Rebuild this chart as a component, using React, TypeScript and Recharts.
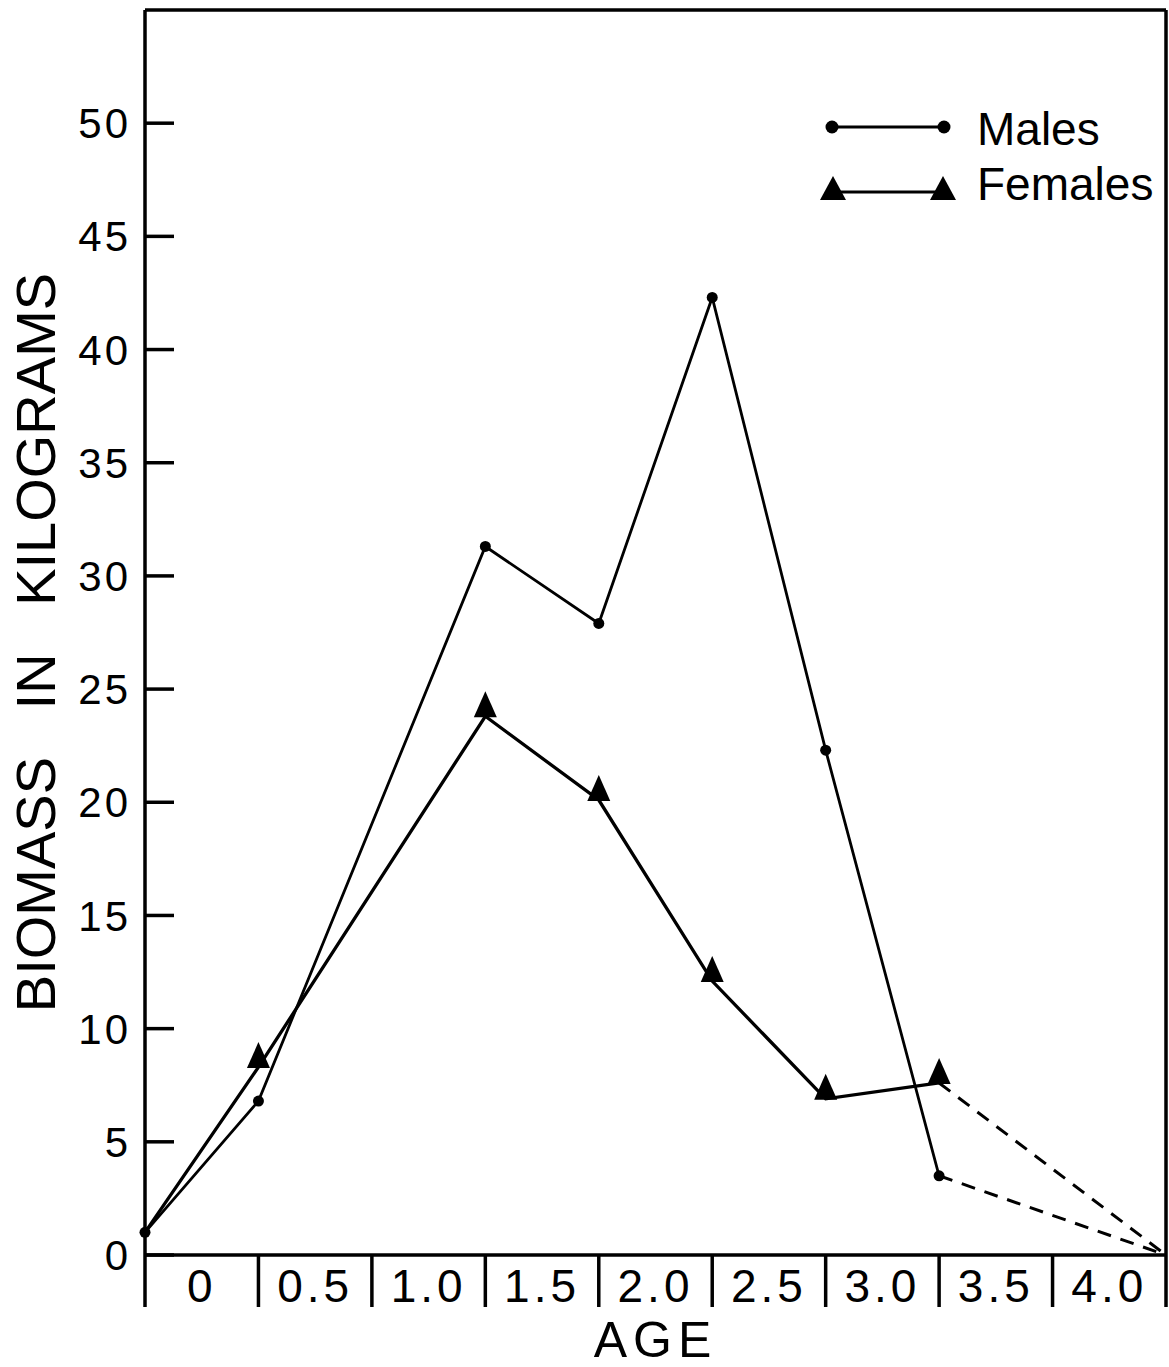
import { Label, Legend, Line, LineChart, ReferenceLine, XAxis, YAxis } from "recharts";

// age classes written between the separators
const ageLabels = ["0", "0.5", "1.0", "1.5", "2.0", "2.5", "3.0", "3.5", "4.0"];
const separators = [0, 1, 2, 3, 4, 5, 6, 7, 8, 9];
const yTicks = [0, 5, 10, 15, 20, 25, 30, 35, 40, 45, 50];

// observed points (x = separator index)
const pointPos = [0, 1, 3, 4, 5, 6, 7];
const malesKg = [1.0, 6.8, 31.3, 27.9, 42.3, 22.3, 3.5];
const femalesKg = [1.0, 8.3, 23.8, 20.1, 12.1, 6.9, 7.6];

// dashed extrapolation to zero
const extPos = [7, 9];
const malesExt = [3.5, 0];
const femalesExt = [7.6, 0];

type Row = { x: number; males?: number; females?: number; malesExt?: number; femalesExt?: number };

const rows: Row[] = [];
const rowAt = (x: number) => {
    let r = rows.find((d) => d.x === x);
    if (!r) {
        r = { x };
        rows.push(r);
    }
    return r;
};
pointPos.forEach((x, i) => {
    const r = rowAt(x);
    r.males = malesKg[i];
    r.females = femalesKg[i];
});
extPos.forEach((x, i) => {
    const r = rowAt(x);
    r.malesExt = malesExt[i];
    r.femalesExt = femalesExt[i];
});
rows.sort((a, b) => a.x - b.x);

const INK = "#000";
const W = 1169;
const H = 1367;
const M = { top: 10, right: 3, bottom: 0, left: 0 };
const Y_W = 145;
const SEP_LEN = 52;
const AXIS_W = 3.5;
// width of one age class on screen, used to centre its label
const STEP = (W - M.left - M.right - Y_W) / (separators.length - 1);

function triPath(cx: number, cy: number, w: number, h: number) {
    return `M${cx - w / 2},${cy + 1} L${cx + w / 2},${cy + 1} L${cx},${cy - h} Z`;
}

function FemaleDot(props: any) {
    const { cx, cy, index } = props;
    if (index === 0 || cx == null || cy == null) return <g key={"f" + index} />;
    return <path key={"f" + index} d={triPath(cx, cy, 23, 25)} fill={INK} />;
}

function MaleDot(props: any) {
    const { cx, cy, index } = props;
    if (cx == null || cy == null) return <g key={"m" + index} />;
    return <circle key={"m" + index} cx={cx} cy={cy} r={5.5} fill={INK} />;
}

function XTick(props: any) {
    const { x, y, payload } = props;
    const label = ageLabels[payload.value];
    if (label == null) return <g />;
    return (
        <text
            x={x + STEP / 2}
            y={y - SEP_LEN + 14}
            dy="0.71em"
            textAnchor="middle"
            fontSize={46}
            letterSpacing={4}
            fill={INK}
        >
            {label}
        </text>
    );
}

function YTick(props: any) {
    const { x, y, payload } = props;
    return (
        <g>
            <line x1={x + 14} x2={x + 43} y1={y} y2={y} stroke={INK} strokeWidth={AXIS_W} />
            <text x={x} y={y} dy="0.36em" textAnchor="end" fontSize={42} letterSpacing={3} fill={INK}>
                {payload.value}
            </text>
        </g>
    );
}

function YTitle(props: any) {
    const vb = props.viewBox;
    const cx = vb.x + 35;
    const cy = vb.y + vb.height / 2 + 10;
    return (
        <text
            x={cx}
            y={cy}
            dy="0.36em"
            textAnchor="middle"
            fontSize={56}
            fill={INK}
            style={{ wordSpacing: 32 }}
            transform={`rotate(-90, ${cx}, ${cy})`}
        >
            BIOMASS IN KILOGRAMS
        </text>
    );
}

function legendRender(props: any) {
    const items = (props.payload || []).filter((p: any) => p.dataKey === "males" || p.dataKey === "females");
    return (
        <svg width={360} height={130}>
            {items.map((p: any) => {
                const isMale = p.dataKey === "males";
                const rowY = isMale ? 37 : 102;
                return (
                    <g key={p.dataKey}>
                        <line x1={32} x2={144} y1={rowY} y2={rowY} stroke={INK} strokeWidth={3} />
                        {isMale ? (
                            <>
                                <circle cx={32} cy={rowY} r={6.5} fill={INK} />
                                <circle cx={144} cy={rowY} r={6.5} fill={INK} />
                            </>
                        ) : (
                            <>
                                <path d={triPath(33, rowY + 7, 26, 23)} fill={INK} />
                                <path d={triPath(143, rowY + 7, 26, 23)} fill={INK} />
                            </>
                        )}
                        <text x={177} y={isMale ? 55 : 110} fontSize={46} fill={INK}>
                            {p.value}
                        </text>
                    </g>
                );
            })}
        </svg>
    );
}

export default function App() {
    return (
        <div style={{ position: "absolute", left: 0, top: 0, fontFamily: "'Liberation Sans', Arial, sans-serif", background: "#fff" }}>
            <LineChart width={W} height={H} data={rows} margin={M}>
                <XAxis
                    dataKey="x"
                    type="number"
                    domain={[0, 9]}
                    ticks={separators}
                    interval={0}
                    tick={<XTick />}
                    tickSize={SEP_LEN}
                    tickMargin={0}
                    height={H - 1255}
                    axisLine={{ stroke: INK, strokeWidth: AXIS_W }}
                    tickLine={{ stroke: INK, strokeWidth: AXIS_W }}
                >
                    <Label value="AGE" position="insideBottom" offset={10} fontSize={50} fill={INK} letterSpacing={6} />
                </XAxis>
                <YAxis
                    type="number"
                    domain={[0, 55]}
                    ticks={yTicks}
                    width={Y_W}
                    tickSize={0}
                    tickMargin={14}
                    tickLine={false}
                    tick={<YTick />}
                    axisLine={{ stroke: INK, strokeWidth: AXIS_W }}
                >
                    <Label content={<YTitle />} />
                </YAxis>
                <ReferenceLine y={55} stroke={INK} strokeWidth={AXIS_W} />
                <ReferenceLine x={9} stroke={INK} strokeWidth={AXIS_W} />
                <Line
                    dataKey="malesExt"
                    stroke={INK}
                    strokeWidth={3}
                    strokeDasharray="14 10"
                    dot={false}
                    legendType="none"
                    isAnimationActive={false}
                />
                <Line
                    dataKey="femalesExt"
                    stroke={INK}
                    strokeWidth={3}
                    strokeDasharray="14 10"
                    dot={false}
                    legendType="none"
                    isAnimationActive={false}
                />
                <Line dataKey="males" name="Males" stroke={INK} strokeWidth={2.8} dot={<MaleDot />} isAnimationActive={false} />
                <Line dataKey="females" name="Females" stroke={INK} strokeWidth={3.3} dot={<FemaleDot />} isAnimationActive={false} />
                <Legend
                    layout="horizontal"
                    align="center"
                    verticalAlign="middle"
                    content={legendRender}
                    wrapperStyle={{ left: 800, top: 90, width: 360 }}
                />
            </LineChart>
        </div>
    );
}
